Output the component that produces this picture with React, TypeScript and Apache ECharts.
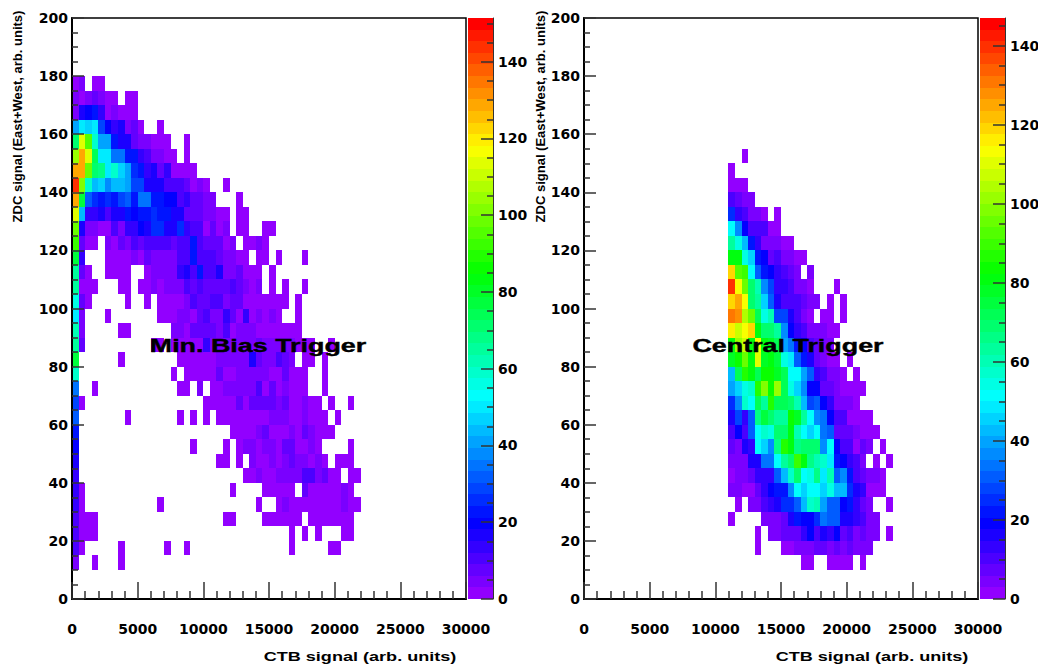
import React, { useEffect, useRef } from "react";
import * as echarts from "echarts";

const binX = 500;
const binY = 5;
const xMax = 30000;
const yMax = 200;
const xLabel = "CTB signal (arb. units)";
const yLabel = "ZDC signal (East+West, arb. units)";
const minBiasTitle = "Min. Bias Trigger";
const centralTitle = "Central Trigger";
const minBiasZMax = 151.4;
const centralZMax = 147;
const paletteSteps = 50;
const zMajorTicks = [0, 20, 40, 60, 80, 100, 120, 140];
const zMinorTicks = [5, 10, 15, 25, 30, 35, 45, 50, 55, 65, 70, 75, 85, 90, 95, 105, 110, 115, 125, 130, 135, 145];
const zMinorTicksMinBias = [...zMinorTicks, 150];

// rows run from the top bin downward; index in a row = x bin
const minBiasTopBin = 175;
const minBiasRows: number[][] = [
  [2,5,0,2,2],
  [5,3,6,8,6,2,2,0,2,2],
  [6,16,20,22,15,3,5,2,2,2],
  [40,50,48,50,30,20,14,18,6,9,2,0,0,2],
  [70,113,95,60,42,42,24,16,16,9,6,6,2,2,2,0,0,2],
  [103,130,115,75,50,50,35,35,24,22,14,12,5,5,2,2,0,2],
  [128,128,98,72,68,50,60,47,40,27,22,13,18,8,13,2,2,2,2],
  [145,102,58,44,48,37,44,44,42,28,28,18,18,16,11,11,11,8,3,5,2,0,0,2],
  [128,78,32,26,24,25,24,30,33,24,36,36,22,23,19,20,12,13,8,8,4,4,0,0,0,2],
  [113,43,13,15,16,10,17,16,24,21,22,22,26,24,22,18,18,9,9,9,4,4,2,2,0,2,2],
  [98,18,6,6,3,3,10,6,13,13,21,17,27,27,17,17,27,14,12,12,2,8,3,6,0,2,2,0,0,2,2],
  [92,7,3,3,0,5,3,9,5,10,8,10,10,10,12,9,12,12,22,11,8,8,8,3,6,0,2,2,5,3],
  [78,13,0,0,0,2,2,2,2,4,2,8,5,6,6,6,12,10,22,12,10,10,8,5,5,2,2,0,2,2,0,2,0,0,0,2],
  [65,9,3,0,0,2,2,2,2,0,0,3,5,6,6,6,13,18,10,24,10,10,16,5,5,7,2,2,2,0,2],
  [64,2,2,2,0,0,0,2,2,0,2,2,6,2,4,4,4,10,8,10,9,9,9,9,12,8,5,3,6,0,2,0,2,0,0,2],
  [55,8,2,0,0,0,0,0,2,0,0,2,0,2,2,2,2,6,10,7,7,11,11,4,8,8,2,2,2,2,2,2,2,0,2],
  [50,6,0,0,0,2,0,0,0,0,0,0,0,2,2,2,5,4,3,8,11,6,5,15,8,3,13,3,4,3,4,2,0,0,2],
  [62,4,0,0,0,0,0,2,2,0,0,0,0,0,0,5,6,3,7,7,7,7,4,11,3,5,5,5,2,2,2,2,2,2,2],
  [64,8,0,0,0,0,0,0,0,0,0,0,2,2,0,3,2,2,2,2,14,6,6,6,6,6,6,6,8,6,6,6,6,6,3,2,2,0,0,2],
  [78,0,0,0,0,0,0,2,0,0,0,0,0,0,0,0,2,2,2,2,2,2,5,5,5,5,5,18,8,5,5,12,8,4,0,2,2,0,2],
  [60,0,0,0,0,0,0,0,0,0,0,0,0,0,0,2,0,2,2,2,2,2,7,2,3,6,4,4,4,4,2,2,7,2,2,2,0,0,2],
  [35,0,0,2,0,0,0,0,0,0,0,0,0,0,0,0,2,2,0,6,0,2,2,4,4,4,4,4,10,3,7,3,5,2,2,2,0,0,2],
  [30,2,0,0,0,0,0,0,0,0,0,0,0,0,0,0,0,0,0,0,2,2,2,2,3,8,3,7,7,7,7,5,8,3,2,5,2,2,0,2,0,0,2],
  [32,0,0,0,0,0,0,0,2,0,0,0,0,0,0,0,2,0,2,0,2,0,2,2,2,2,2,3,2,2,4,4,6,3,2,5,2,2,2,0,2],
  [22,0,0,0,0,0,0,0,0,0,0,0,0,0,0,0,0,0,0,0,0,0,0,0,2,2,2,2,4,8,3,2,2,5,2,8,4,2,2,2],
  [20,0,0,0,0,0,0,0,0,0,0,0,0,0,0,0,0,0,2,0,0,0,0,2,0,2,4,4,2,5,5,2,8,8,2,2,5,2,0,0,0,0,2],
  [16,0,0,0,0,0,0,0,0,0,0,0,0,0,0,0,0,0,0,0,0,0,2,2,0,2,0,6,2,2,4,2,4,8,4,4,2,4,2,0,2,2,2],
  [14,0,0,0,0,0,0,0,0,0,0,0,0,0,0,0,0,0,0,0,0,0,0,0,0,0,2,2,4,2,2,4,4,4,4,10,10,4,8,2,2,0,2,2],
  [13,2,0,0,0,0,0,0,0,0,0,0,0,0,0,0,0,0,0,0,0,0,0,0,2,0,0,0,0,2,2,2,2,2,0,8,2,2,2,2,2,4,2],
  [13,2,0,0,0,0,0,0,0,0,0,0,0,2,0,0,0,0,0,0,0,0,0,0,0,0,0,0,2,0,0,2,4,2,2,2,2,2,2,2,2,4,2,2],
  [12,2,2,2,0,0,0,0,0,0,0,0,0,0,0,0,0,0,0,0,0,0,0,2,2,0,0,0,0,2,2,2,2,2,2,0,2,2,2,2,2,2,2],
  [12,2,2,2,0,0,0,0,0,0,0,0,0,0,0,0,0,0,0,0,0,0,0,0,0,0,0,0,0,0,0,0,0,2,0,2,0,2,0,0,0,2,2],
  [10,2,0,0,0,0,0,2,0,0,0,0,0,0,2,0,0,2,0,0,0,0,0,0,0,0,0,0,0,0,0,0,0,2,0,0,0,0,0,2,2],
  [5,0,0,2,0,0,0,2],
];

const centralTopBin = 150;
const centralFirstColumn = 22;
const centralRows: number[][] = [
  [0,0,2],
  [2],
  [2,2,2],
  [9,7,3,4],
  [24,14,10,3,4,2,0,2],
  [50,38,20,11,10,9,2,2],
  [62,55,42,21,13,5,5,5,2,2],
  [82,80,55,45,22,20,8,11,5,3,2,2],
  [118,92,90,52,32,22,20,12,10,7,4,0,3],
  [140,113,95,70,60,38,28,13,13,11,5,5,2,0,0,0,2],
  [120,125,112,70,62,45,30,16,11,11,11,7,3,3,0,2,0,2],
  [132,128,105,95,72,55,60,27,27,16,10,4,2,0,2,2,0,2],
  [115,107,112,120,82,68,70,62,37,18,12,9,5,3,5,2,2],
  [80,100,108,80,113,82,78,72,40,35,22,18,10,8,5,3],
  [78,85,95,80,110,78,82,75,55,48,32,22,15,8,5,2,2,0,2],
  [42,72,88,80,72,85,85,78,72,50,50,40,30,12,9,3,3,2,0,2],
  [40,45,55,58,88,98,85,100,72,55,46,38,20,18,7,7,3,2,2,2,2],
  [26,38,58,50,72,64,88,72,72,70,60,42,28,30,18,12,3,3,3,2],
  [16,28,14,30,65,75,68,62,62,85,78,62,52,38,35,18,9,9,2,2,2,2],
  [9,18,9,30,50,58,55,70,70,82,60,52,45,50,35,30,8,8,8,3,2,2,2],
  [6,4,16,14,50,45,36,65,88,82,65,70,68,68,36,50,20,9,9,2,7,3,0,2],
  [3,3,3,16,16,35,35,50,62,70,90,82,65,60,58,48,22,20,14,11,5,0,2,0,2],
  [2,3,3,7,14,14,14,30,42,58,70,52,55,65,48,60,32,38,22,11,8,3,3,2],
  [3,3,2,2,8,12,18,22,22,38,52,45,50,50,47,55,42,42,26,16,12,2,2,2],
  [0,2,0,3,3,9,12,16,26,26,32,42,58,60,40,30,30,18,22,14,8,5,0,0,2],
  [2,0,0,0,0,3,3,3,7,15,23,20,20,25,35,30,30,16,16,12,10,5,3],
  [0,0,0,0,2,0,3,3,8,8,8,12,18,10,16,14,18,7,9,5,8,3,3,0,2],
  [0,0,0,0,2,0,0,0,2,2,4,4,4,6,6,4,7,4,7,3,3,5],
  [0,0,0,0,0,0,0,0,0,0,0,2,2,0,0,2,2,2,2,0,2],
];

const toCells = (rows: number[][], topBin: number, firstColumn: number) =>
  rows.flatMap((row, r) =>
    row.flatMap((v, c) =>
      v > 0 ? [[(c + firstColumn) * binX, topBin - r * binY, v]] : []
    )
  );

const paletteColor = (index: number) => {
  const i = Math.min(paletteSteps - 1, Math.max(0, index));
  return `hsl(${280 - (i + 1) * (280 / paletteSteps)}, 100%, 50%)`;
};

const FONT = "'DejaVu Sans'";
const FONT2 = "'Liberation Sans'";

const heatRender = (zMax: number, dx: number, dy: number) => (params: any, api: any) => {
  const x = api.value(0);
  const y = api.value(1);
  const v = api.value(2);
  const a = api.coord([x, y + dy]);
  const b = api.coord([x + dx, y]);
  const x0 = Math.round(a[0]);
  const y0 = Math.round(a[1]);
  return {
    type: "rect",
    shape: { x: x0, y: y0, width: Math.round(b[0]) - x0, height: Math.round(b[1]) - y0 },
    style: { fill: paletteColor(Math.floor((v / zMax) * paletteSteps)) },
  };
};

const tickLabel = { fontFamily: FONT, fontWeight: "bold" as const, fontSize: 14, color: "#000" };
const axisLine = { show: true, onZero: false, lineStyle: { color: "#000", width: 2 } };
const plain = (v: number) => String(v);
const tickStroke = { color: "#333", width: 1.5 };

function panel(idx: number, left: number, barLeft: number, zMax: number, cells: number[][], zStep: number, zMinor: number[]) {
  const g = idx * 2;
  const yg = idx * 3;
  const barCells = Array.from({ length: paletteSteps }, (_, i) => [0, (i * zMax) / paletteSteps, ((i + 0.5) * zMax) / paletteSteps]);
  return {
    grid: [
      { left, top: 18, width: 394, height: 581, show: true, z: -5, borderColor: "#000", borderWidth: 1.5, backgroundColor: "#fff", outerBoundsMode: "none" },
      { left: barLeft, top: 18, width: 25, height: 581, show: false, outerBoundsMode: "none" },
    ],
    xAxis: [
      {
        type: "value", gridIndex: g, min: 0, max: xMax, interval: 5000, z: 10,
        axisLine, splitLine: { show: false },
        axisTick: { show: true, inside: true, length: 17, lineStyle: tickStroke },
        minorTick: { show: true, splitNumber: 5, length: 8, lineStyle: tickStroke },
        axisLabel: { ...tickLabel, margin: 23, hideOverlap: false, formatter: plain },
      },
      { type: "value", gridIndex: g + 1, min: 0, max: 1, show: false },
    ],
    yAxis: [
      {
        type: "value", gridIndex: g, min: 0, max: yMax, interval: 20, z: 10,
        axisLine, splitLine: { show: false },
        axisTick: { show: true, inside: true, length: 12, lineStyle: tickStroke },
        minorTick: { show: true, splitNumber: 4, length: 6, lineStyle: tickStroke },
        axisLabel: { ...tickLabel, margin: 4, padding: [2, 0, 0, 0] },
      },
      {
        type: "value", gridIndex: g + 1, position: "right", min: 0, max: zMax, interval: zStep, z: 10,
        axisLine: { show: true, onZero: false, lineStyle: { color: "#333", width: 1 } }, splitLine: { show: false },
        axisTick: { show: true, inside: true, length: 12, customValues: zMajorTicks, lineStyle: tickStroke },
        axisLabel: { ...tickLabel, margin: 5, showMaxLabel: false },
      },
      {
        type: "value", gridIndex: g + 1, position: "right", min: 0, max: zMax, interval: zStep, z: 10,
        axisLine: { show: false, onZero: false }, splitLine: { show: false },
        axisTick: { show: true, inside: true, length: 6, customValues: zMinor, lineStyle: tickStroke },
        axisLabel: { show: false },
      },
    ],
    series: [
      {
        type: "custom", xAxisIndex: g, yAxisIndex: yg, silent: true, z: -1,
        renderItem: heatRender(zMax, binX, binY), data: cells, encode: { x: 0, y: 1 },
      },
      {
        type: "custom", xAxisIndex: g + 1, yAxisIndex: yg + 1, silent: true, z: -1,
        renderItem: (params: any, api: any) => {
          const a = api.coord([0, api.value(1) + zMax / paletteSteps]);
          const b = api.coord([1, api.value(1)]);
          const y0 = Math.round(a[1]);
          return {
            type: "rect",
            shape: { x: a[0], y: y0, width: b[0] - a[0], height: Math.round(b[1]) - y0 },
            style: { fill: paletteColor(Math.floor((api.value(2) / zMax) * paletteSteps)) },
          };
        },
        data: barCells, encode: { x: 0, y: 1 },
      },
    ],
  };
}

const stretchedText = (text: string, x: number, y: number, fontSize: number, scaleX: number, heavy = 0) => ({
  type: "text", x, y, scaleX, z: 100,
  style: { text, fontFamily: FONT2, fontWeight: "bold", fontSize, fill: "#000", stroke: heavy ? "#000" : undefined, lineWidth: heavy, align: "center", verticalAlign: "middle" },
});
const rotatedText = (text: string, x: number, y: number, fontSize: number) => ({
  type: "text", x, y, rotation: Math.PI / 2, z: 100,
  style: { text, fontFamily: FONT2, fontWeight: "bold", fontSize, fill: "#000", align: "center", verticalAlign: "middle" },
});

export default function App() {
  const ref = useRef<HTMLDivElement>(null);
  useEffect(() => {
    if (!ref.current) return;
    const chart = echarts.init(ref.current, undefined, { renderer: "svg" });
    const a = panel(0, 72, 468, minBiasZMax, toCells(minBiasRows, minBiasTopBin, 0), 20, zMinorTicksMinBias);
    const b = panel(1, 584, 980, centralZMax, toCells(centralRows, centralTopBin, centralFirstColumn), 20, zMinorTicks);
    chart.setOption({
      animation: false,
      backgroundColor: "#fff",
      grid: [...a.grid, ...b.grid],
      xAxis: [...a.xAxis, ...b.xAxis],
      yAxis: [...a.yAxis, ...b.yAxis],
      series: [...a.series, ...b.series],
      graphic: [
        stretchedText(minBiasTitle, 258, 346, 18.5, 1.453, 0.4),
        stretchedText(centralTitle, 788, 346, 18.5, 1.453, 0.4),
        stretchedText(xLabel, 360, 656, 13, 1.39),
        stretchedText(xLabel, 872, 656, 13, 1.39),
        rotatedText(yLabel, 17, 116.5, 13),
        rotatedText(yLabel, 540, 116.5, 13),
      ],
    });
    return () => chart.dispose();
  }, []);
  return <div ref={ref} style={{ position: "absolute", left: 0, top: 0, width: 1038, height: 664 }} />;
}
